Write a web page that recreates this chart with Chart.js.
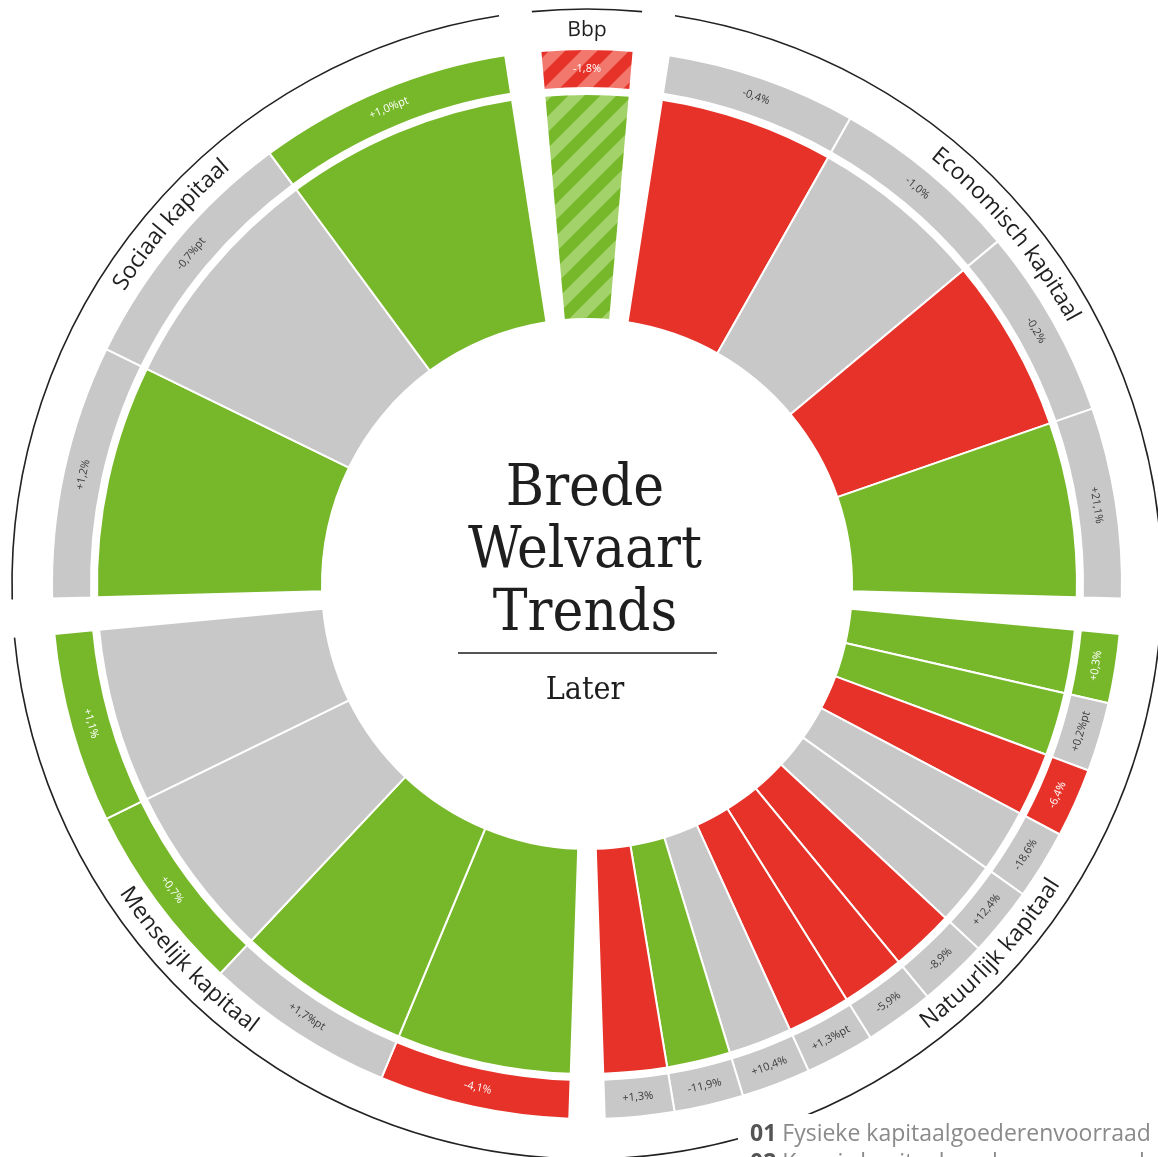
<!DOCTYPE html>
<html>
<head>
<meta charset="utf-8">
<script src="https://cdn.jsdelivr.net/npm/chart.js@4.4.1/dist/chart.umd.min.js"></script>
<style>
  html, body { margin: 0; padding: 0; background: #fff; }
  #wrap { position: relative; width: 1158px; height: 1157px; }
</style>
</head>
<body>
<div id="wrap"><canvas id="wheel"></canvas></div>
<script>
// groups, clockwise from the top
const groupNames = ['Bbp', 'Economisch kapitaal', 'Natuurlijk kapitaal', 'Menselijk kapitaal', 'Sociaal kapitaal'];

// one entry per indicator, clockwise starting at Bbp
const groupOf = [0, 1, 1, 1, 1, 2, 2, 2, 2, 2, 2, 2, 2, 2, 2, 2, 3, 3, 3, 3, 4, 4, 4];
// inner ring: trend "later"
const trendLater = ['up',
  'down', 'flat', 'down', 'up',
  'up', 'up', 'down', 'flat', 'flat', 'down', 'down', 'down', 'flat', 'up', 'down',
  'up', 'up', 'flat', 'flat',
  'up', 'flat', 'up'];
// outer band: recent change
const trendRecent = ['down',
  'flat', 'flat', 'flat', 'flat',
  'up', 'flat', 'down', 'flat', 'flat', 'flat', 'flat', 'flat', 'flat', 'flat', 'flat',
  'down', 'flat', 'up', 'up',
  'flat', 'flat', 'up'];
const changeLabels = ['-1,8%',
  '-0,4%', '-1,0%', '-0,2%', '+21,1%',
  '+0,3%', '+0,2%pt', '-6,4%', '-18,6%', '+12,4%', '-8,9%', '-5,9%', '+1,3%pt', '+10,4%', '-11,9%', '+1,3%',
  '-4,1%', '+1,7%pt', '+0,7%', '+1,1%',
  '+1,2%', '-0,7%pt', '+1,0%pt'];
const hatchedGroups = ['Bbp'];

const centerTitle = ['Brede', 'Welvaart', 'Trends'];
const centerSub = 'Later';
const legendItems = [['01', 'Fysieke kapitaalgoederenvoorraad'], ['02', 'Kennis kapitaalgoederenvoorraad']];

// layout (degrees / pixels)
const bbpSpan = 10, gapSpan = 3.8;
const groupSpan = (360 - bbpSpan - 5 * gapSpan) / 4;
const labelShift = [0, 0, -4.2, 3.4, 1];
const COLORS = { up: '#77b82a', down: '#e63228', flat: '#c8c8c8' };
const LIGHT = { up: '#a4d26a', down: '#f2786e', flat: '#e0e0e0' };
const SANS = '"Open Sans", "Noto Sans", sans-serif';
const SERIF = '"DejaVu Serif Condensed", "DejaVu Serif", serif';

// diagonal stripes for the hatched (Bbp) marks
function stripes(base, light) {
  const s = 32;
  const c = document.createElement('canvas');
  c.width = s; c.height = s;
  const g = c.getContext('2d');
  g.fillStyle = base;
  g.fillRect(0, 0, s, s);
  g.strokeStyle = light;
  g.lineWidth = s / Math.SQRT2 / 2;
  for (const k of [0, s, 2 * s]) {
    g.beginPath();
    g.moveTo(k + s, -s);
    g.lineTo(k - 2 * s, 2 * s);
    g.stroke();
  }
  return g.createPattern(c, 'repeat');
}

// slots: indicators with gaps between groups
const slots = [];
groupOf.forEach((g, i) => {
  if (i > 0 && groupOf[i - 1] !== g) slots.push(null);
  slots.push(i);
});
slots.push(null);
const counts = groupNames.map((_, g) => groupOf.filter(x => x === g).length);
const sizes = slots.map(i => i === null ? gapSpan : (groupOf[i] === 0 ? bbpSpan : groupSpan / counts[groupOf[i]]));

function fill(trend) {
  return slots.map(i => {
    if (i === null) return 'rgba(0,0,0,0)';
    const t = trend[i];
    if (hatchedGroups.includes(groupNames[groupOf[i]])) return stripes(COLORS[t], LIGHT[t]);
    return COLORS[t];
  });
}
const borders = slots.map(i => i === null ? 0 : 2);

function compass(rad) {
  return ((rad * 180 / Math.PI + 90) % 360 + 360) % 360;
}

function arcText(ctx, text, cx, cy, r, midDeg) {
  const flip = midDeg > 90 && midDeg < 270;
  const dir = flip ? -1 : 1;
  const total = ctx.measureText(text).width;
  let a = midDeg * Math.PI / 180 - dir * total / 2 / r;
  for (const ch of text) {
    const w = ctx.measureText(ch).width;
    const ac = a + dir * w / 2 / r;
    ctx.save();
    ctx.translate(cx + r * Math.sin(ac), cy - r * Math.cos(ac));
    ctx.rotate(flip ? ac + Math.PI : ac);
    ctx.fillText(ch, 0, 0);
    ctx.restore();
    a += dir * w / r;
  }
}

const overlay = {
  id: 'overlay',
  afterDatasetsDraw(chart) {
    const ctx = chart.ctx;
    const band = chart.getDatasetMeta(0).data;
    const cx = band[0].x, cy = band[0].y;
    const rMid = (band[0].innerRadius + band[0].outerRadius) / 2;

    // value labels in the outer band
    ctx.save();
    ctx.font = '11px ' + SANS;
    ctx.textAlign = 'center';
    ctx.textBaseline = 'middle';
    slots.forEach((i, k) => {
      if (i === null) return;
      const el = band[k];
      const mid = (el.startAngle + el.endAngle) / 2;
      const deg = compass(mid);
      const flip = deg > 90 && deg < 270;
      ctx.save();
      ctx.translate(cx + rMid * Math.cos(mid), cy + rMid * Math.sin(mid));
      ctx.rotate((flip ? deg - 180 : deg) * Math.PI / 180);
      ctx.fillStyle = trendRecent[i] === 'flat' ? '#3a3a3a' : '#ffffff';
      ctx.fillText(changeLabels[i], 0, 0);
      ctx.restore();
    });
    ctx.restore();

    // group arcs and curved group names
    const R = 575, rText = 554;
    groupNames.forEach((name, g) => {
      const ks = slots.map((i, k) => (i !== null && groupOf[i] === g) ? k : -1).filter(k => k >= 0);
      const ext = g === 0 ? 0.5 * Math.PI / 180 : 0;
      const s = band[ks[0]].startAngle - ext;
      const e = band[ks[ks.length - 1]].endAngle + ext;
      ctx.save();
      ctx.strokeStyle = '#222';
      ctx.lineWidth = 1.6;
      ctx.beginPath();
      ctx.arc(cx, cy, R, s, e);
      ctx.stroke();
      ctx.fillStyle = '#1f1f1f';
      ctx.font = (g === 0 ? '21px ' : '23px ') + SANS;
      ctx.textAlign = 'center';
      ctx.textBaseline = 'middle';
      arcText(ctx, name, cx, cy, rText, compass((s + e) / 2) + labelShift[g]);
      ctx.restore();
    });

    // centre title
    ctx.save();
    ctx.fillStyle = '#1e1e1e';
    ctx.textAlign = 'center';
    ctx.textBaseline = 'alphabetic';
    ctx.font = '58px ' + SERIF;
    const tx = cx - 2;
    ctx.fillText(centerTitle[0], tx, cy - 79);
    ctx.fillText(centerTitle[1], tx, cy - 17);
    ctx.fillText(centerTitle[2], tx, cy + 46);
    ctx.strokeStyle = '#555';
    ctx.lineWidth = 2;
    ctx.beginPath();
    ctx.moveTo(cx - 129, cy + 69);
    ctx.lineTo(cx + 130, cy + 69);
    ctx.stroke();
    ctx.font = '32px ' + SERIF;
    ctx.fillText(centerSub, tx, cy + 115);
    ctx.restore();
  },
  afterDraw(chart) {
    const ctx = chart.ctx;
    ctx.save();
    ctx.fillStyle = '#fff';
    ctx.fillRect(738, 1114, 430, 60);
    ctx.textBaseline = 'alphabetic';
    legendItems.forEach((item, j) => {
      const y = 1141 + j * 29;
      ctx.font = 'bold 23px ' + SANS;
      ctx.fillStyle = '#555';
      ctx.fillText(item[0], 750, y);
      const w = ctx.measureText(item[0] + ' ').width;
      ctx.font = '23px ' + SANS;
      ctx.fillStyle = '#8a8a8a';
      ctx.fillText(item[1], 750 + w, y);
    });
    ctx.restore();
  }
};

new Chart(document.getElementById('wheel'), {
  type: 'doughnut',
  data: {
    labels: slots.map(i => i === null ? '' : groupNames[groupOf[i]]),
    datasets: [
      { label: 'Recent', data: sizes, backgroundColor: fill(trendRecent), borderColor: '#fff', borderWidth: borders, weight: 39 },
      { label: 'spacer', data: sizes, backgroundColor: 'rgba(0,0,0,0)', borderWidth: 0, weight: 6 },
      { label: 'Later', data: sizes, backgroundColor: fill(trendLater), borderColor: '#fff', borderWidth: borders, weight: 225 }
    ]
  },
  options: {
    responsive: true,
    maintainAspectRatio: false,
    animation: false,
    devicePixelRatio: 1,
    rotation: -bbpSpan / 2,
    cutout: 265,
    layout: { padding: { left: 51, right: 35, top: 48, bottom: 37 } },
    plugins: {
      legend: { display: false },
      tooltip: { enabled: false }
    }
  },
  plugins: [overlay]
});
</script>
</body>
</html>
